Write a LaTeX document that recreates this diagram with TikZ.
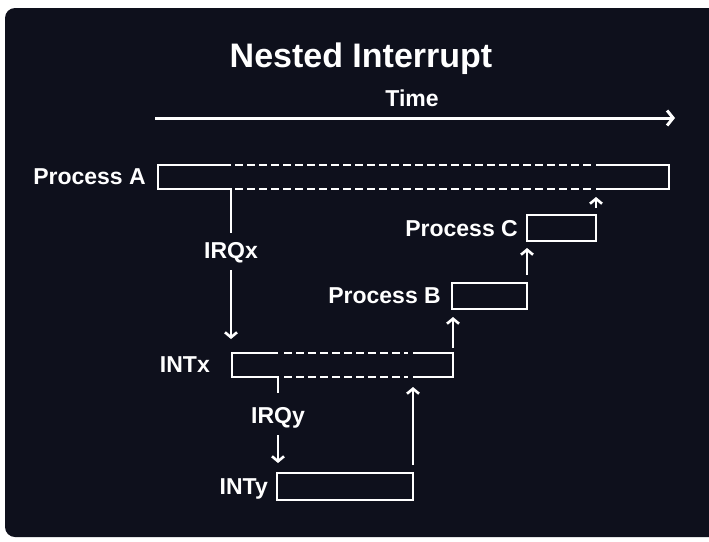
\documentclass[tikz,border=0pt]{standalone}
\usepackage{fontspec}
\setmainfont{Liberation Sans}
\usetikzlibrary{positioning,arrows.meta}

\definecolor{bgdark}{RGB}{14,16,28}

\tikzset{
  lane/.style={inner sep=0pt, outer sep=0pt, anchor=north west},
  tag/.style={text=white, font=\bfseries\fontsize{23}{25}\selectfont, inner sep=0pt, text depth=0pt},
  wire/.style={draw=white, line width=2.6pt},
  gap/.style={wire, dash pattern=on 8pt off 4pt},
  hop/.style={wire, -{Straight Barb[length=5pt,width=12pt]}},
}

\begin{document}
\begin{tikzpicture}[x=1pt,y=-1pt]
  \useasboundingbox (0,0) rectangle (709,541);

  % Dark panel
  \fill[white] (0,0) rectangle (709,541);
  \fill[bgdark, rounded corners=10pt] (5,8) rectangle (730,537);

  % Title and time axis
  \node[tag, font=\bfseries\fontsize{34}{37}\selectfont] (title) at (361,55) {Nested Interrupt};
  \node[tag] (time) at (412,98.5) {Time};
  \coordinate (t0) at (155,118);
  \coordinate (t1) at (675,118);
  \draw[wire, line width=3pt, -{Straight Barb[length=6pt,width=15pt]}] (t0) -- (t1);

  % Boxes
  \node[lane, minimum width=511pt, minimum height=24pt] (procA) at (158,165) {};
  \node[lane, minimum width=221pt, minimum height=24pt] (intx) at (232,353) {};
  \node[lane, wire, minimum width=136pt, minimum height=27pt] (inty) at (277,473) {};
  \node[lane, wire, minimum width=75pt, minimum height=26pt] (procB) at (452,283) {};
  \node[lane, wire, minimum width=69pt, minimum height=26pt] (procC) at (527,215) {};

  % Labels
  \node[tag, left=12pt of procA] (labA) {Process A};
  \node[tag, left=22pt of intx] (labX) {INTx};
  \node[tag, left=9pt of inty] (labY) {INTy};
  \node[tag, left=11pt of procB] (labB) {Process B};
  \node[tag, left=9pt of procC] (labC) {Process C};
  \node[tag] (irqx) at (231,250) {IRQx};
  \node[tag] (irqy) at (278,415) {IRQy};

  % Process A, broken while interrupted
  \draw[wire] (irqx |- procA.north) -- (procA.north west) -- (procA.south west)
    -- (irqx |- procA.south) -- ([yshift=9pt]irqx.north);
  \draw[gap, shorten <=4pt, shorten >=2pt] (irqx |- procA.north) -- (procC.north east |- procA.north);
  \draw[gap, shorten <=4pt, shorten >=2pt] (irqx |- procA.south) -- (procC.north east |- procA.south);
  \draw[wire] (procC.north east |- procA.north) -- (procA.north east) -- (procA.south east)
    -- (procC.north east |- procA.south);

  % INTx, broken by INTy
  \draw[wire] (irqy |- intx.north) -- (intx.north west) -- (intx.south west)
    -- (irqy |- intx.south) -- ([yshift=14pt]irqy.north);
  \draw[gap, shorten <=6pt, shorten >=5pt] (irqy |- intx.north) -- (inty.north east |- intx.north);
  \draw[gap, shorten <=6pt, shorten >=5pt] (irqy |- intx.south) -- (inty.north east |- intx.south);
  \draw[wire] (inty.north east |- intx.north) -- (intx.north east) -- (intx.south east)
    -- (inty.north east |- intx.south);

  % Arrows
  \draw[hop, shorten <=12pt, shorten >=14pt] (irqx.south) -- (irqx.south |- intx.north);
  \draw[hop, shorten <=12pt, shorten >=10pt] (irqy.south) -- (irqy.south |- inty.north);
  \draw[hop, shorten <=8pt, shorten >=10pt] (inty.north east) -- (inty.north east |- intx.south);
  \draw[hop, shorten <=5pt, shorten >=8pt] (intx.north east) -- (intx.north east |- procB.south);
  \draw[hop, shorten <=8pt, shorten >=7pt] (procB.north east) -- (procB.north east |- procC.south);
  \draw[hop, shorten <=7pt, shorten >=8pt] (procC.north east) -- (procC.north east |- procA.south);
\end{tikzpicture}
\end{document}
